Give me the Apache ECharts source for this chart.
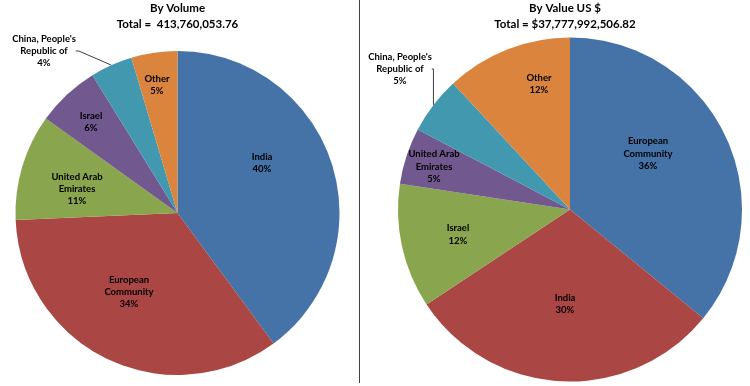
<!DOCTYPE html>
<html>
<head>
<meta charset="utf-8">
<script src="https://cdn.jsdelivr.net/npm/echarts@6/dist/echarts.min.js"></script>
<style>
html,body{margin:0;padding:0;background:#fff;}
#chart{width:750px;height:386px;}
</style>
</head>
<body>
<div id="chart"></div>
<script>
// ---- data (shares in %) ----
const volumeCategories = ['India', 'European\nCommunity', 'United Arab\nEmirates', 'Israel', "China, People's\nRepublic of", 'Other'];
const volumeShares = [39.9, 34.4, 10.6, 6.3, 4.2, 4.6];
const valueCategories = ['European\nCommunity', 'India', 'Israel', 'United Arab\nEmirates', "China, People's\nRepublic of", 'Other'];
const valueShares = [35.9, 29.8, 11.7, 5.3, 5.4, 11.9];
const volumeTitle = 'By Volume';
const volumeTotal = 'Total =  413,760,053.76';
const valueTitle = 'By Value US $';
const valueTotal = 'Total = $37,777,992,506.82';

// ---- styling / label placement (not data) ----
const palette = ['#4572A7', '#AA4643', '#89A54E', '#71588F', '#4198AF', '#DB843D'];
const outsideName = "China, People's\nRepublic of";
const labelPos = [
  [[262, 163], [129, 292], [77, 189], [91, 122], [44, 51], [157, 85]],
  [[648, 153.5], [565, 304], [458, 234.5], [434, 166.5], [400, 69], [539, 84]]
];
const FONT = 'Lato, "Open Sans", sans-serif';

function buildData(cats, vals) {
  return cats.map((c, i) => {
    const item = { name: c, value: vals[i], itemStyle: { color: palette[i % palette.length] } };
    if (c === outsideName) {
      item.label = { position: 'outside' };
      item.labelLine = { show: true, length: 6, length2: 3, lineStyle: { color: '#404040', width: 1 } };
    }
    return item;
  });
}

function pieSeries(cats, vals, center, radius, idx) {
  return {
    type: 'pie',
    center: center,
    radius: radius,
    startAngle: 90,
    clockwise: true,
    animation: false,
    silent: true,
    avoidLabelOverlap: false,
    data: buildData(cats, vals),
    itemStyle: { borderWidth: 0 },
    label: {
      show: true,
      position: 'inside',
      formatter: p => p.name + '\n' + Math.round(p.percent) + '%',
      color: '#000',
      fontFamily: FONT,
      fontWeight: 'bold',
      fontSize: 9.5,
      lineHeight: 12.3,
      align: 'center'
    },
    labelLine: { show: false },
    labelLayout: function (params) {
      const p = labelPos[idx][params.dataIndex];
      return { x: p[0], y: p[1], align: 'center', verticalAlign: 'middle' };
    }
  };
}

const chart = echarts.init(document.getElementById('chart'), null, { renderer: 'canvas' });
chart.setOption({
  backgroundColor: '#fff',
  animation: false,
  title: [
    {
      text: volumeTitle + '\n' + volumeTotal,
      left: 177.5, top: 0, textAlign: 'center', padding: 0,
      textStyle: { fontFamily: FONT, fontWeight: 'bold', fontSize: 11.5, lineHeight: 16, color: '#000' }
    },
    {
      text: valueTitle + '\n' + valueTotal,
      left: 565, top: 0, textAlign: 'center', padding: 0,
      textStyle: { fontFamily: FONT, fontWeight: 'bold', fontSize: 11.5, lineHeight: 16, color: '#000' }
    }
  ],
  graphic: [
    { type: 'line', shape: { x1: 359.5, y1: 0, x2: 359.5, y2: 383 }, style: { stroke: '#404040', lineWidth: 1 }, silent: true }
  ],
  series: [
    pieSeries(volumeCategories, volumeShares, [177.5, 213], 162, 0),
    pieSeries(valueCategories, valueShares, [570, 209.5], 172, 1)
  ]
});
</script>
</body>
</html>
